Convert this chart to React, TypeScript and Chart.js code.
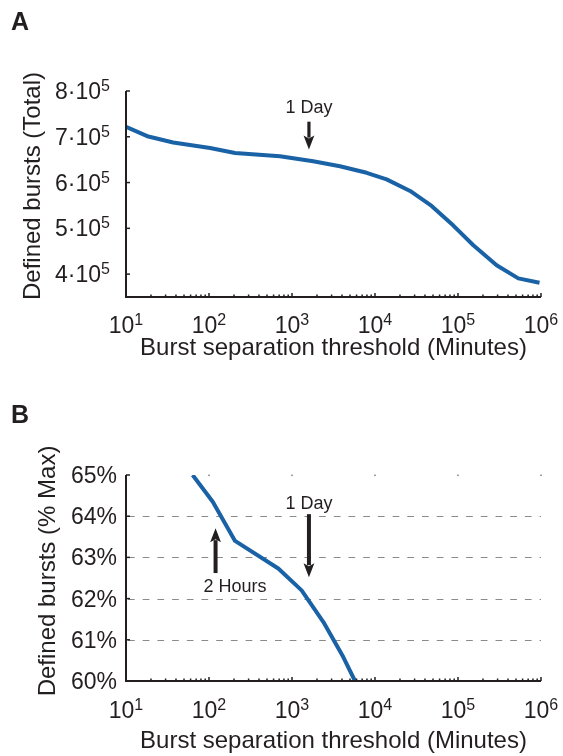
import React, { useEffect, useRef } from "react";
import { Chart, registerables } from "chart.js";

Chart.register(...registerables);

// ---------- data ----------
const thresholdsA = [10, 18.6, 37, 103, 206, 716, 1800, 3780, 7940, 13800, 26500, 48100, 87900, 153000, 292000, 533000, 960000];
const burstsTotal = [722000, 700500, 687600, 675300, 664500, 657300, 646500, 635700, 621300, 607000, 581600, 549000, 506000, 463000, 419500, 390600, 381000];

const thresholdsB = [63.5, 111, 206, 684, 1306, 2390, 4150, 5740];
const burstsPct = [65.0, 64.35, 63.4, 62.73, 62.2, 61.43, 60.58, 60.0];

const xTickExponents = [1, 2, 3, 4, 5, 6];
const yTickMantissasA = [4, 5, 6, 7, 8]; // × 10^5
const yTicksB = [60, 61, 62, 63, 64, 65];
const gridLinesB = [61, 62, 63, 64];

const ONE_DAY = 1600; // arrow position (minutes)
const TWO_HOURS = 120;

// ---------- style ----------
const FONT = '"Liberation Sans", Arial, Helvetica, sans-serif';
const INK = "#231f20";
const BLUE = "#1a62a6";
const TICK_FONT = 23;
const SUP_FONT = 16;
const SUP_RAISE = 8;
const TITLE_FONT = 24;
const NOTE_FONT = 18;

type Arrow = { x: number; from: number; to: number; width: number };
type Note = { text: string; x: number; y: number };
type PanelCfg = {
  letter: string;
  letterBaseline: number;
  yTitle: string;
  yTitleBaselineX: number;
  yTitleCenterY: number;
  xTitle: string;
  xTitleOffset: number;
  xTickOffset: number;
  yLabelRight: number;
  yTicks: { value: number; base: string; sup?: string }[];
  grid?: number[];
  topDots?: boolean;
  arrows: Arrow[];
  notes: Note[];
};

function drawSup(ctx: CanvasRenderingContext2D, base: string, sup: string | undefined, x: number, y: number, align: "left" | "right" | "center") {
  ctx.textAlign = "left";
  ctx.textBaseline = "alphabetic";
  ctx.font = `${TICK_FONT}px ${FONT}`;
  const wb = ctx.measureText(base).width;
  let ws = 0;
  if (sup) {
    ctx.font = `${SUP_FONT}px ${FONT}`;
    ws = ctx.measureText(sup).width;
  }
  const total = wb + ws;
  const x0 = align === "right" ? x - total : align === "center" ? x - total / 2 : x;
  ctx.font = `${TICK_FONT}px ${FONT}`;
  ctx.fillText(base, x0, y);
  if (sup) {
    ctx.font = `${SUP_FONT}px ${FONT}`;
    ctx.fillText(sup, x0 + wb, y - SUP_RAISE);
  }
}

function drawArrow(ctx: CanvasRenderingContext2D, x: number, y1: number, y2: number, w: number) {
  const dir = Math.sign(y2 - y1);
  const headLen = 14;
  const headHalf = 5.4;
  ctx.strokeStyle = INK;
  ctx.fillStyle = INK;
  ctx.lineWidth = w;
  ctx.setLineDash([]);
  ctx.beginPath();
  ctx.moveTo(x, y1);
  ctx.lineTo(x, y2 - dir * (headLen - 2));
  ctx.stroke();
  ctx.beginPath();
  ctx.moveTo(x, y2);
  ctx.lineTo(x - headHalf, y2 - dir * headLen);
  ctx.lineTo(x, y2 - dir * (headLen - 3));
  ctx.lineTo(x + headHalf, y2 - dir * headLen);
  ctx.closePath();
  ctx.fill();
}

function makePlugin(cfg: PanelCfg) {
  return {
    id: "panelDecor" + cfg.letter,
    beforeDatasetsDraw(chart: any) {
      const ctx: CanvasRenderingContext2D = chart.ctx;
      const xs = chart.scales.x;
      const ys = chart.scales.y;
      const { left, right, top } = chart.chartArea;
      ctx.save();
      if (cfg.grid) {
        ctx.strokeStyle = "#8a8a8a";
        ctx.lineWidth = 1.2;
        ctx.setLineDash([6.7, 8]);
        for (const g of cfg.grid) {
          const py = Math.round(ys.getPixelForValue(g)) + 0.5;
          ctx.beginPath();
          ctx.moveTo(left + 2, py);
          ctx.lineTo(right, py);
          ctx.stroke();
        }
        ctx.setLineDash([]);
      }
      if (cfg.topDots) {
        ctx.fillStyle = "#8a8a8a";
        for (const e of xTickExponents) {
          if (e === 1) continue;
          const px = xs.getPixelForValue(Math.pow(10, e));
          ctx.fillRect(px - 0.8, top - 0.5, 1.6, 1.6);
        }
      }
      ctx.restore();
    },
    afterDraw(chart: any) {
      const ctx: CanvasRenderingContext2D = chart.ctx;
      const xs = chart.scales.x;
      const ys = chart.scales.y;
      const { left, right, top, bottom } = chart.chartArea;
      ctx.save();
      ctx.setLineDash([]);
      // axes
      ctx.strokeStyle = INK;
      ctx.lineWidth = 2;
      ctx.beginPath();
      ctx.moveTo(left, top);
      ctx.lineTo(left, bottom);
      ctx.lineTo(right, bottom);
      ctx.stroke();
      // y ticks (inward)
      ctx.lineWidth = 1.5;
      for (const t of cfg.yTicks) {
        const py = ys.getPixelForValue(t.value);
        ctx.beginPath();
        ctx.moveTo(left, py);
        ctx.lineTo(left + 4, py);
        ctx.stroke();
      }
      // x ticks major + minor (inward)
      for (const e of xTickExponents) {
        const px = xs.getPixelForValue(Math.pow(10, e));
        ctx.beginPath();
        ctx.moveTo(px, bottom);
        ctx.lineTo(px, bottom - 4);
        ctx.stroke();
        if (e < 6) {
          for (let m = 2; m <= 9; m++) {
            const mx = xs.getPixelForValue(m * Math.pow(10, e));
            ctx.beginPath();
            ctx.moveTo(mx, bottom);
            ctx.lineTo(mx, bottom - 2.5);
            ctx.stroke();
          }
        }
      }
      // labels
      ctx.fillStyle = INK;
      for (const t of cfg.yTicks) {
        const py = ys.getPixelForValue(t.value);
        drawSup(ctx, t.base, t.sup, cfg.yLabelRight, py + 8, "right");
      }
      for (const e of xTickExponents) {
        const px = xs.getPixelForValue(Math.pow(10, e));
        drawSup(ctx, "10", String(e), px, bottom + cfg.xTickOffset, "center");
      }
      // axis titles
      ctx.font = `${TITLE_FONT}px ${FONT}`;
      ctx.textAlign = "center";
      ctx.textBaseline = "alphabetic";
      ctx.fillText(cfg.xTitle, (left + right) / 2, bottom + cfg.xTitleOffset);
      ctx.save();
      ctx.translate(cfg.yTitleBaselineX, cfg.yTitleCenterY);
      ctx.rotate(-Math.PI / 2);
      ctx.fillText(cfg.yTitle, 0, 0);
      ctx.restore();
      // panel letter
      ctx.font = `bold 25px ${FONT}`;
      ctx.textAlign = "left";
      ctx.fillText(cfg.letter, 11, cfg.letterBaseline);
      // annotations
      for (const a of cfg.arrows) {
        drawArrow(ctx, xs.getPixelForValue(a.x), ys.getPixelForValue(a.from), ys.getPixelForValue(a.to), a.width);
      }
      ctx.fillStyle = INK;
      ctx.font = `${NOTE_FONT}px ${FONT}`;
      ctx.textAlign = "center";
      ctx.textBaseline = "alphabetic";
      for (const n of cfg.notes) {
        ctx.fillText(n.text, xs.getPixelForValue(n.x), ys.getPixelForValue(n.y));
      }
      ctx.restore();
    },
  };
}

const panelA: PanelCfg = {
  letter: "A",
  letterBaseline: 30,
  yTitle: "Defined bursts (Total)",
  yTitleBaselineX: 40,
  yTitleCenterY: 186,
  xTitle: "Burst separation threshold (Minutes)",
  xTitleOffset: 58,
  xTickOffset: 35.5,
  yLabelRight: 110,
  yTicks: yTickMantissasA.map((m) => ({ value: m * 1e5, base: `${m}·10`, sup: "5" })),
  arrows: [{ x: ONE_DAY, from: 733000, to: 672000, width: 3.2 }],
  notes: [{ text: "1 Day", x: ONE_DAY, y: 752500 }],
};

const panelB: PanelCfg = {
  letter: "B",
  letterBaseline: 45,
  yTitle: "Defined bursts (% Max)",
  yTitleBaselineX: 55,
  yTitleCenterY: 193,
  xTitle: "Burst separation threshold (Minutes)",
  xTitleOffset: 67,
  xTickOffset: 37,
  yLabelRight: 117,
  yTicks: yTicksB.map((v) => ({ value: v, base: `${v}%` })),
  grid: gridLinesB,
  topDots: true,
  arrows: [
    { x: ONE_DAY, from: 64.05, to: 62.52, width: 4 },
    { x: TWO_HOURS, from: 62.62, to: 63.71, width: 4 },
  ],
  notes: [
    { text: "1 Day", x: ONE_DAY, y: 64.17 },
    { text: "2 Hours", x: 206, y: 62.17 },
  ],
};

function buildConfig(xs: number[], ys: number[], yMin: number, yMax: number, padTop: number, padBottom: number, cfg: PanelCfg): any {
  return {
    type: "line",
    data: {
      datasets: [
        {
          data: xs.map((x, i) => ({ x, y: ys[i] })),
          borderColor: BLUE,
          borderWidth: 4,
          pointRadius: 0,
          tension: 0,
          fill: false,
          borderJoinStyle: "round",
        },
      ],
    },
    options: {
      animation: false,
      responsive: false,
      maintainAspectRatio: false,
      devicePixelRatio: 1,
      layout: { padding: { left: 126, right: 22, top: padTop, bottom: padBottom } },
      plugins: { legend: { display: false }, tooltip: { enabled: false }, title: { display: false } },
      scales: {
        x: { type: "logarithmic", min: 10, max: 1e6, display: false },
        y: { type: "linear", min: yMin, max: yMax, display: false },
      },
    },
    plugins: [makePlugin(cfg)],
  };
}

export default function App() {
  const refA = useRef<HTMLCanvasElement>(null);
  const refB = useRef<HTMLCanvasElement>(null);
  useEffect(() => {
    const a = new Chart(refA.current as HTMLCanvasElement, buildConfig(thresholdsA, burstsTotal, 350000, 800000, 91, 81, panelA));
    const b = new Chart(refB.current as HTMLCanvasElement, buildConfig(thresholdsB, burstsPct, 60, 65, 97, 75, panelB));
    return () => {
      a.destroy();
      b.destroy();
    };
  }, []);
  return (
    <div style={{ position: "absolute", left: 0, top: 0, width: 563, height: 756, background: "#fff" }}>
      <canvas ref={refA} width={563} height={378} style={{ display: "block", width: 563, height: 378 }} />
      <canvas ref={refB} width={563} height={378} style={{ display: "block", width: 563, height: 378 }} />
    </div>
  );
}
